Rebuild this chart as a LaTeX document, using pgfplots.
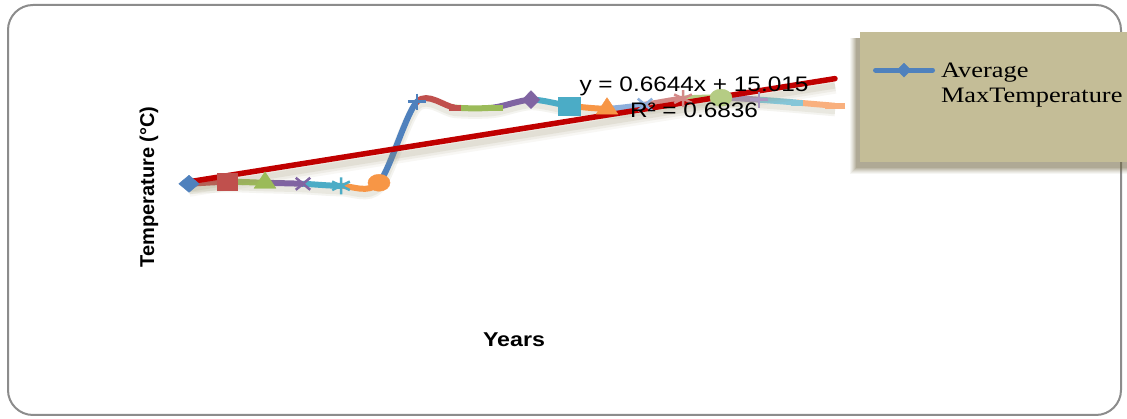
\documentclass[border=0pt]{standalone}
\usepackage{fontspec}
\setmainfont{Liberation Sans}
\newfontfamily\arialS[FakeStretch=1.16]{Liberation Sans}
\newfontfamily\timesS[FakeStretch=1.2]{Liberation Serif}
\usepackage{pgfplots}
\pgfplotsset{compat=1.18}
\usepackage{pgfplotstable}

% Office palette and its lighter variants
\definecolor{cB}{HTML}{4F81BD}
\definecolor{cR}{HTML}{C0504D}
\definecolor{cG}{HTML}{9BBB59}
\definecolor{cP}{HTML}{8064A2}
\definecolor{cT}{HTML}{4BACC6}
\definecolor{cO}{HTML}{F79646}
\definecolor{lB}{HTML}{8EB0DC}
\definecolor{lR}{HTML}{D48A88}
\definecolor{lG}{HTML}{B5CC84}
\definecolor{lP}{HTML}{A996C0}
\definecolor{lT}{HTML}{85C6D8}
\definecolor{lO}{HTML}{F9B07E}
\definecolor{trend}{HTML}{C00000}
\definecolor{panel}{HTML}{C4BD97}
\definecolor{panelshadow}{HTML}{6F6640}
\definecolor{frame}{HTML}{8C8C8C}
\definecolor{trendshadow}{HTML}{9C9470}

% Average maximum temperature per year (index 1..18)
\pgfplotstableread{
year temp
1 15.46
2 15.68
3 15.57
4 15.46
5 15.24
6 15.57
7 24.45
8 23.80
9 23.80
10 24.67
11 24.01
12 23.68
13 24.12
14 24.78
15 24.89
16 24.67
17 24.35
18 24.00
}\tempdata

% Linear trend y = 0.6644x + 15.015 at both ends
\pgfplotstableread{
year temp
1 15.6794
18 26.9742
}\trenddata

% one coloured piece of the smoothed line, between two years
\newcommand{\seg}[3]{%
  \begin{scope}
    \clip (axis cs:#1,0) rectangle (axis cs:#2,30);
    \addplot[smooth, no marks, line width=6pt, line cap=round, color=#3, forget plot]
      table[x=year, y=temp] {\tempdata};
  \end{scope}}
% the marker of a single year
\newcommand{\pt}[2]{%
  \addplot[only marks, #2, restrict x to domain=#1:#1, forget plot]
    table[x=year, y=temp] {\tempdata};}

\begin{document}
\begin{tikzpicture}
\useasboundingbox (0,0) rectangle (1127pt,419pt);
\clip (0,0) rectangle (1127pt,419pt);
\fill[white] (0,0) rectangle (1127pt,419pt);
\draw[frame, line width=2pt, rounded corners=25pt] (8pt,4pt) rectangle (1121pt,414pt);

% legend panel with a soft shadow
\foreach \e/\o in {6/0.06,5/0.07,4/0.08,3/0.1,2/0.12,1/0.14,0/0.16}
  \fill[panelshadow, opacity=\o] (856pt-\e pt,251pt-\e pt) rectangle (1140pt,381pt);
\fill[panel] (860pt,257pt) rectangle (1140pt,387pt);

% axis titles
\node[font=\arialS\bfseries\fontsize{20}{24}\selectfont] at (514pt,79pt) {Years};
\node[font=\bfseries\fontsize{20}{24}\selectfont, rotate=90] at (149pt,232pt) {Temperature (°C)};

\begin{axis}[
  at={(170pt,94pt)}, anchor=south west,
  scale only axis, width=684pt, height=274pt,
  xmin=0.5, xmax=18.5, ymin=0, ymax=30,
  axis lines=none, clip=false,
  legend cell align=left,
  legend style={at={(axis description cs:1.0278,0.9234)}, anchor=west,
    draw=none, fill=none, inner sep=0pt, outer sep=0pt,
    font=\timesS\fontsize{22}{25}\selectfont},
]
% shadow under the series
\addplot[smooth, no marks, line width=11pt, color=trendshadow, opacity=0.10, yshift=-5pt, forget plot]
  table[x=year, y=temp] {\tempdata};
\addplot[smooth, no marks, line width=7pt, color=trendshadow, opacity=0.12, yshift=-5pt, forget plot]
  table[x=year, y=temp] {\tempdata};

\seg{1}{2}{cR}
\seg{2}{3}{cG}
\seg{3}{4}{cP}
\seg{4}{5}{cT}
\seg{5}{6}{cO}
\seg{6}{7}{cB}
\seg{7}{8}{cR}
\seg{8}{9}{cG}
\seg{9}{10}{cP}
\seg{10}{11}{cT}
\seg{11}{12}{cO}
\seg{12}{13}{lB}
\seg{13}{14}{lR}
\seg{14}{15}{lG}
\seg{15}{16}{lP}
\seg{16}{17}{lT}
\seg{17}{18}{lO}

\pt{1}{mark=diamond*, color=cB, mark size=8.5pt, mark options={xscale=1.6}}
\pt{2}{mark=square*, color=cR, mark size=8.5pt, mark options={xscale=1.2}}
\pt{3}{mark=triangle*, color=cG, mark size=11pt, mark options={xscale=1.15}}
\pt{4}{mark=x, color=cP, mark size=8.5pt, mark options={xscale=1.2, line width=2.5pt}}
\pt{5}{mark=asterisk, color=cT, mark size=8.5pt, mark options={xscale=1.2, line width=2.5pt}}
\pt{6}{mark=*, color=cO, mark size=8.5pt, mark options={xscale=1.3}}
\pt{7}{mark=+, color=cB, mark size=8pt, mark options={xscale=1.15, line width=2.5pt}}
\pt{8}{mark=-, color=cR, mark size=6pt, mark options={line width=6pt}}
\pt{9}{mark=-, color=cG, mark size=10pt, mark options={line width=6pt}}
\pt{10}{mark=diamond*, color=cP, mark size=9pt, mark options={xscale=1.3}}
\pt{11}{mark=square*, color=cT, mark size=9pt, mark options={xscale=1.2}}
\pt{12}{mark=triangle*, color=cO, mark size=11pt, mark options={xscale=1.15}}
\pt{13}{mark=x, color=lB, mark size=8.5pt, mark options={xscale=1.2, line width=2.5pt}}
\pt{14}{mark=asterisk, color=lR, mark size=8.5pt, mark options={xscale=1.2, line width=2.5pt}}
\pt{15}{mark=*, color=lG, mark size=8.5pt, mark options={xscale=1.3}}
\pt{16}{mark=+, color=lP, mark size=8pt, mark options={xscale=1.15, line width=2.5pt}}
\pt{17}{mark=-, color=lT, mark size=6pt, mark options={line width=6pt}}
\pt{18}{mark=-, color=lO, mark size=10pt, mark options={line width=6pt}}

% linear trend with its shadow
\addplot[no marks, line width=16pt, color=trendshadow, opacity=0.07, yshift=-7pt, forget plot]
  table[x=year, y=temp] {\trenddata};
\addplot[no marks, line width=11pt, color=trendshadow, opacity=0.10, yshift=-7pt, forget plot]
  table[x=year, y=temp] {\trenddata};
\addplot[no marks, line width=6pt, color=trendshadow, opacity=0.14, yshift=-7pt, forget plot]
  table[x=year, y=temp] {\trenddata};
\addplot[no marks, line width=5.5pt, color=trend, line cap=round, forget plot]
  table[x=year, y=temp] {\trenddata};

\addlegendimage{legend image code/.code={
  \draw[line width=5pt, color=cB, line cap=round] (0pt,8pt) -- (57pt,8pt);
  \draw[color=cB, fill=cB, mark=diamond*, mark size=7pt, mark options={xscale=1.3}]
    plot coordinates {(28.5pt,8pt)};}}
\addlegendentry{\hspace{4pt}\smash{\begin{tabular}[t]{@{}l@{}}Average\\MaxTemperature\end{tabular}}}
\end{axis}

\node[font=\arialS\fontsize{21}{25}\selectfont, anchor=base] at (694pt,327pt) {y = 0.6644x + 15.015};
\node[font=\arialS\fontsize{21}{25}\selectfont, anchor=base] at (694pt,301pt) {R² = 0.6836};
\end{tikzpicture}
\end{document}
